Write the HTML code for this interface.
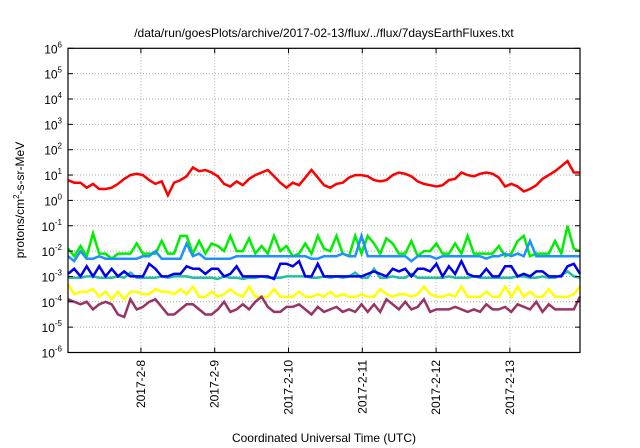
<!DOCTYPE html>
<html><head><meta charset="utf-8"><style>
html,body{margin:0;padding:0;background:#fff;}
svg{display:block;font-family:"Liberation Sans",sans-serif;}
</style></head><body>
<svg id="chart" width="640" height="448" viewBox="0 0 640 448">
<text x="324" y="37" font-size="12" text-anchor="middle">/data/run/goesPlots/archive/2017-02-13/flux/../flux/7daysEarthFluxes.txt</text>
<text x="324" y="442" font-size="12" text-anchor="middle">Coordinated Universal Time (UTC)</text>
<text transform="translate(24,200) rotate(-90)" font-size="12" text-anchor="middle">protons/cm<tspan font-size="8" dy="-5">2</tspan><tspan dy="5">-s-sr-MeV</tspan></text>
<g id="grid"></g><g id="series"></g><g id="axes"></g>
</svg>
<script>
const yTickExps=[-6,-5,-4,-3,-2,-1,0,1,2,3,4,5,6];
const xTickLabels=["2017-2-8","2017-2-9","2017-2-10","2017-2-11","2017-2-12","2017-2-13"];
const xTickDays=[1,2,3,4,5,6];
const redLog=[0.8,0.7,0.7,0.5,0.65,0.45,0.45,0.5,0.65,0.85,1.0,1.05,1.0,0.8,0.65,0.75,0.2,0.7,0.8,0.95,1.3,1.15,1.2,1.1,0.95,0.65,0.55,0.75,0.6,0.85,1.0,1.1,1.2,0.95,0.7,0.5,0.7,0.6,0.9,1.2,0.9,0.6,0.5,0.65,0.7,0.9,1.0,1.0,0.95,0.8,0.75,0.8,1.0,1.1,1.05,0.95,0.75,0.65,0.6,0.55,0.6,0.8,0.85,1.1,1.0,0.95,1.05,1.1,1.05,0.9,0.55,0.65,0.55,0.35,0.45,0.6,0.85,1.0,1.15,1.35,1.55,1.1,1.1];
const greenLog=[-1.9,-2.2,-1.8,-2.2,-1.3,-2.1,-2.1,-2.3,-2.1,-2.1,-2.1,-1.7,-2.1,-2.1,-2.1,-1.6,-2.1,-2.1,-1.4,-1.4,-2.1,-1.6,-2.1,-1.7,-1.8,-2.0,-1.4,-2.0,-2.0,-1.5,-2.1,-1.8,-2.1,-1.4,-2.0,-1.8,-2.2,-2.1,-1.7,-2.1,-1.4,-1.9,-2.0,-1.4,-2.1,-2.2,-1.4,-2.1,-1.4,-1.7,-2.1,-1.5,-1.7,-2.1,-2.1,-1.6,-2.2,-2.0,-2.0,-1.7,-2.1,-2.1,-1.7,-2.1,-1.4,-2.1,-2.1,-2.1,-2.1,-1.8,-2.2,-2.1,-1.6,-1.4,-2.2,-2.1,-2.1,-2.1,-1.6,-2.1,-1.0,-1.9,-2.0];
const ltblueLog=[-2.2,-2.4,-2.0,-2.3,-2.3,-2.2,-2.3,-2.3,-2.3,-2.3,-2.3,-2.3,-2.2,-2.2,-2.0,-2.3,-2.3,-2.3,-2.3,-1.7,-2.2,-2.1,-2.3,-2.3,-2.3,-2.3,-2.3,-2.2,-2.2,-2.2,-2.2,-2.2,-2.2,-2.2,-2.2,-2.2,-2.2,-2.2,-2.2,-2.3,-2.3,-2.2,-2.2,-2.2,-2.1,-2.2,-2.2,-1.4,-2.2,-2.2,-2.2,-2.2,-2.2,-2.2,-2.2,-2.4,-2.2,-2.2,-2.2,-2.3,-2.2,-2.2,-2.2,-2.2,-2.2,-2.2,-2.2,-2.3,-2.2,-2.2,-2.1,-2.2,-2.1,-2.2,-1.6,-2.2,-2.2,-2.2,-2.2,-2.2,-2.2,-2.2,-2.2];
const blueLog=[-2.9,-2.7,-3.0,-2.6,-3.0,-2.6,-3.0,-2.7,-3.0,-2.8,-3.0,-3.0,-3.0,-2.5,-2.7,-3.0,-3.0,-2.9,-2.9,-2.6,-2.7,-2.7,-2.9,-2.7,-2.7,-3.0,-2.9,-2.6,-3.0,-3.0,-3.0,-3.0,-3.0,-3.1,-2.5,-2.5,-2.6,-2.4,-3.0,-3.0,-2.5,-3.0,-3.0,-3.0,-3.0,-3.0,-3.0,-3.0,-2.9,-2.8,-2.9,-3.0,-2.7,-2.8,-2.7,-3.0,-2.7,-2.7,-2.8,-2.5,-3.0,-2.6,-2.9,-2.4,-2.9,-3.0,-3.0,-2.7,-3.0,-3.0,-2.6,-2.6,-3.0,-2.9,-3.0,-2.8,-2.8,-3.0,-3.0,-3.0,-2.6,-2.5,-2.9];
const tealLog=[-3.05,-3.05,-3.05,-3.0,-3.0,-3.05,-3.05,-3.05,-3.0,-3.05,-2.85,-3.05,-3.05,-3.05,-3.05,-3.0,-3.05,-3.0,-3.0,-3.0,-3.05,-3.05,-3.05,-3.05,-3.1,-3.0,-3.05,-3.05,-3.1,-3.05,-3.05,-3.0,-3.05,-3.05,-3.05,-3.0,-3.0,-3.0,-3.0,-3.05,-3.05,-3.0,-3.05,-3.0,-3.05,-3.0,-2.85,-3.05,-3.05,-2.7,-3.05,-3.05,-3.0,-3.05,-3.05,-2.9,-3.05,-3.05,-3.05,-3.05,-3.05,-3.0,-3.05,-3.05,-3.05,-3.0,-3.05,-3.05,-3.05,-3.05,-3.05,-3.05,-3.0,-3.0,-3.05,-3.05,-3.0,-3.05,-3.05,-2.95,-2.8,-3.0,-3.05];
const yellowLog=[-3.3,-3.7,-3.6,-3.6,-3.5,-3.8,-3.6,-3.9,-3.6,-3.9,-3.6,-3.6,-3.7,-3.7,-3.5,-3.6,-3.6,-3.7,-3.5,-3.7,-3.4,-3.8,-3.8,-3.6,-3.8,-3.7,-3.5,-3.7,-3.8,-3.4,-3.8,-3.8,-3.8,-3.5,-3.8,-3.8,-3.8,-3.6,-3.8,-3.8,-3.7,-3.8,-3.6,-3.8,-3.7,-3.8,-3.8,-3.7,-3.8,-3.8,-3.5,-3.7,-3.8,-3.7,-3.7,-3.8,-3.7,-3.4,-3.7,-3.8,-3.8,-3.7,-3.8,-3.4,-3.8,-3.8,-3.8,-3.6,-3.8,-3.8,-3.4,-3.8,-3.4,-3.8,-3.6,-3.8,-3.8,-3.5,-3.8,-3.8,-3.8,-3.7,-3.4];
const purpleLog=[-3.9,-4.0,-4.1,-4.0,-4.3,-4.1,-4.0,-4.1,-4.5,-4.6,-3.9,-4.3,-4.2,-4.0,-3.9,-4.2,-4.5,-4.5,-4.3,-4.1,-4.1,-4.3,-4.5,-4.5,-4.3,-4.0,-4.4,-4.3,-4.1,-4.3,-4.0,-3.8,-4.2,-4.4,-4.4,-4.2,-4.2,-4.1,-4.3,-4.5,-4.2,-4.4,-4.3,-4.2,-4.4,-4.3,-4.4,-4.1,-4.4,-4.1,-4.4,-3.9,-4.1,-4.3,-4.0,-4.3,-4.2,-3.9,-4.4,-4.3,-4.3,-4.3,-4.2,-4.3,-4.4,-4.3,-4.4,-4.1,-4.3,-4.3,-4.2,-4.4,-4.1,-4.2,-4.3,-4.0,-4.4,-4.1,-4.3,-4.3,-4.3,-4.3,-3.8];
const series=[
 ["series-green",greenLog,"#00ee00"],
 ["series-lightblue",ltblueLog,"#1e90ff"],
 ["series-teal",tealLog,"#20c0a0"],
 ["series-blue",blueLog,"#0000ee"],
 ["series-yellow",yellowLog,"#ffff00"],
 ["series-purple",purpleLog,"#993366"],
 ["series-red",redLog,"#ff0000"]];
const L=68,R=580,T=48.3,B=352.5,NS="http://www.w3.org/2000/svg";
const dayStart=0.012,dayEnd=6.95;
function yScale(e){return T+(6-e)/12*(B-T);}
function xDay(d){return L+(d-dayStart)/(dayEnd-dayStart)*(R-L);}
function xIdx(i,n){return L+i/(n-1)*(R-L);}
function mk(tag,attrs,parent){const e=document.createElementNS(NS,tag);for(const k in attrs)e.setAttribute(k,attrs[k]);parent.appendChild(e);return e;}
const grid=document.getElementById('grid'),axes=document.getElementById('axes'),sg=document.getElementById('series');
yTickExps.forEach(e=>{
 const y=yScale(e);
 if(e>-6&&e<6){const g=mk('line',{x1:L,x2:R,y1:y,y2:y,stroke:'#aaa','stroke-width':1,'stroke-dasharray':'1,2'},grid);
 
 }
 const t1=mk('line',{x1:L,x2:L+5,y1:y,y2:y,stroke:'#000'},axes);
 
 
 const t2=mk('line',{x1:R-5,x2:R,y1:y,y2:y,stroke:'#000'},axes);
 
 
 const tx=mk('text',{x:62,y:y+5,'font-size':12,'text-anchor':'end'},axes);
 
 
 tx.textContent='10';
 const sup=mk('tspan',{'font-size':8,dy:-6},tx);sup.textContent=String(e);
});
xTickDays.forEach((d,i)=>{
 const x=xDay(d);
 const g=mk('line',{x1:x,x2:x,y1:T,y2:B,stroke:'#aaa','stroke-width':1,'stroke-dasharray':'1,2'},grid);
 
 
 const t1=mk('line',{x1:x,x2:x,y1:B-5,y2:B,stroke:'#000'},axes);
 
 
 const t2=mk('line',{x1:x,x2:x,y1:T,y2:T+5,stroke:'#000'},axes);
 
 
 const tx=mk('text',{transform:`translate(${x+4},360) rotate(-90)`,'font-size':12,'text-anchor':'end'},axes);
 
 
 tx.textContent=xTickLabels[i];
});
series.forEach(([name,arr,col])=>{
 const pts=arr.map((v,i)=>xIdx(i,arr.length).toFixed(1)+','+yScale(v).toFixed(1)).join(' ');
 const p=mk('polyline',{points:pts,fill:'none',stroke:col,'stroke-width':2.5,'stroke-linejoin':'miter'},sg);
 
 
});
const fr=mk('rect',{x:L,y:T,width:R-L,height:B-T,fill:'none',stroke:'#000','stroke-width':1.2},axes);


</script>
</body></html>
